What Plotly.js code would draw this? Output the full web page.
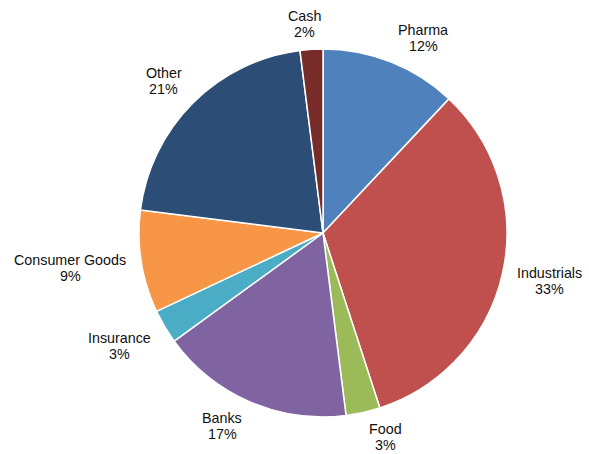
<!DOCTYPE html>
<html><head><meta charset="utf-8">
<script src="https://cdn.plot.ly/plotly-3.0.1.min.js"></script>
<style>html,body{margin:0;padding:0;background:#fff;}</style>
</head><body>
<div id="chart" style="width:589px;height:454px;"></div>
<script>
var labels = ["Pharma", "Industrials", "Food", "Banks", "Insurance", "Consumer Goods", "Other", "Cash"];
var values = [12, 33, 3, 17, 3, 9, 21, 2];
var colors = ["#4F81BD", "#C0504D", "#9BBB59", "#8064A2", "#4BACC6", "#F79646", "#2C4D75", "#772C2A"];

var W = 589, H = 454;
var M = {l: 80, r: 23, t: 49, b: 37};
var pw = W - M.l - M.r, ph = H - M.t - M.b;
var R = Math.min(pw, ph) / 2;
var cx0 = M.l + pw / 2, cy0 = M.t + ph / 2;
var gap = 12, halfLine = 8, halfBlock = 13;
var FONT_FAMILY = "Liberation Sans, Arial, sans-serif";
var FONT_SIZE = 14.3;
var fontSpec = {family: FONT_FAMILY, size: FONT_SIZE, color: "#111111"};

var ctx = document.createElement("canvas").getContext("2d");
ctx.font = FONT_SIZE + "px 'Liberation Sans', Arial, sans-serif";
function clamp(v) { return Math.max(-1, Math.min(1, v)); }

var total = values.reduce(function (a, b) { return a + b; }, 0);
var annotations = [];
var cum = 0;
for (var i = 0; i < values.length; i++) {
  var mid = (cum + values[i] / 2) / total * 2 * Math.PI;
  cum += values[i];
  var s = Math.sin(mid), c = Math.cos(mid);
  var pct = Math.round(values[i] / total * 100) + "%";
  var w = Math.max(ctx.measureText(labels[i]).width, ctx.measureText(pct).width);
  var px = cx0 + (R + gap) * s;
  var py = cy0 - (R + gap) * c;
  var bx = px + clamp(s / 0.2) * (w / 2 + 3);
  var by = py - clamp(c / 0.5) * halfBlock;
  var xp = (bx - M.l) / pw;
  var yp = 1 - (by - M.t) / ph;
  [[labels[i], halfLine], [pct, -halfLine]].forEach(function (item) {
    annotations.push({
      xref: "paper", yref: "paper", x: xp, y: yp,
      xanchor: "center", yanchor: "middle", yshift: item[1],
      text: item[0], showarrow: false, align: "center",
      font: fontSpec, borderpad: 0
    });
  });
}

Plotly.newPlot("chart", [{
  type: "pie",
  labels: labels,
  values: values,
  sort: false,
  direction: "clockwise",
  rotation: 0,
  marker: {colors: colors, line: {color: "#ffffff", width: 1.5}},
  textinfo: "none",
  hoverinfo: "none"
}], {
  width: W, height: H,
  margin: M,
  showlegend: false,
  paper_bgcolor: "#ffffff",
  font: fontSpec,
  annotations: annotations
}, {displayModeBar: false, staticPlot: true});
</script>
</body></html>
